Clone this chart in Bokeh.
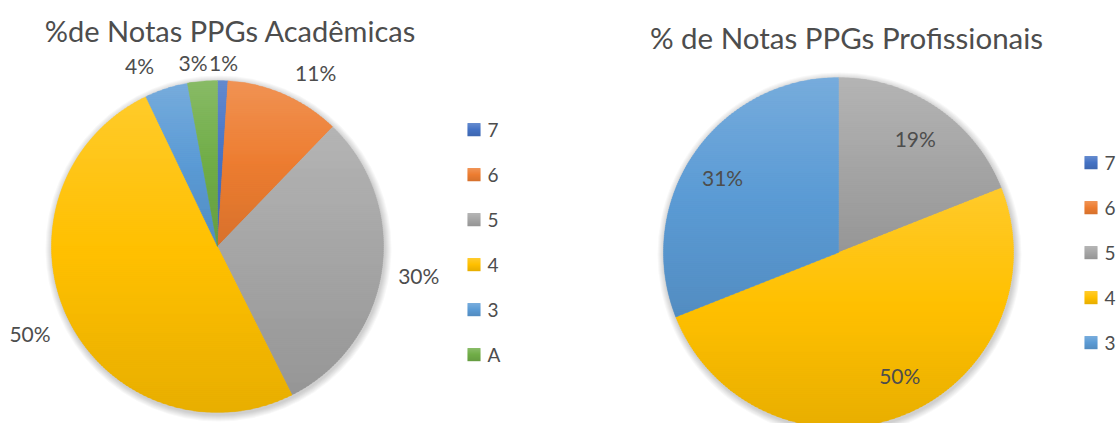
import math
from bokeh.plotting import figure
from bokeh.models import Range1d
from bokeh.embed import file_html
from bokeh.resources import INLINE
from bokeh.core.properties import value

# ---------------- data ----------------
grades_acad = ["7", "6", "5", "4", "3", "A"]
pct_acad = [1.0, 11.2, 30.4, 50.3, 4.2, 2.9]
grades_prof = ["7", "6", "5", "4", "3"]
pct_prof = [0.0, 0.0, 19.0, 50.0, 31.0]
title_acad = "%de Notas PPGs Acadêmicas"
title_prof = "% de Notas PPGs Profissionais"

grade_colors = {"7": "#4472C4", "6": "#ED7D31", "5": "#A5A5A5",
                "4": "#FFC000", "3": "#5B9BD5", "A": "#70AD47"}

# ---------------- layout (screen px) ----------------
W, H = 1117, 423
TOT_H = 423
FONT = value("Lato")
TXT = "#4d4d4d"


def Y(sy):
    return TOT_H - sy


p = figure(width=W, height=H, x_range=Range1d(0, W), y_range=Range1d(0, H),
           output_backend="svg", toolbar_location=None, min_border=0)
p.axis.visible = False
p.grid.visible = False
p.outline_line_color = None
p.background_fill_color = "white"
p.border_fill_color = "white"


def hex2rgb(h):
    h = h.lstrip("#")
    return [int(h[i:i + 2], 16) for i in (0, 2, 4)]


def rgb2hex(c):
    return "#%02x%02x%02x" % tuple(max(0, min(255, int(round(v)))) for v in c)


def mix(a, b, t):
    return [a[i] + (b[i] - a[i]) * t for i in range(3)]


def grad_color(hexc, t):
    base = hex2rgb(hexc)
    light = mix(base, [255, 255, 255], 0.17)
    dark = mix(base, [0, 0, 0], 0.09)
    if t < 0.5:
        return rgb2hex(mix(light, base, t / 0.5))
    return rgb2hex(mix(base, dark, (t - 0.5) / 0.5))


def clip_half(poly, y0, keep_above):
    out = []
    n = len(poly)
    if n == 0:
        return out

    def inside(pt):
        return pt[1] >= y0 if keep_above else pt[1] <= y0

    for i in range(n):
        cur = poly[i]
        prev = poly[i - 1]
        ci, pi = inside(cur), inside(prev)
        if ci:
            if not pi:
                t = (y0 - prev[1]) / (cur[1] - prev[1])
                out.append((prev[0] + t * (cur[0] - prev[0]), y0))
            out.append(cur)
        elif pi:
            t = (y0 - prev[1]) / (cur[1] - prev[1])
            out.append((prev[0] + t * (cur[0] - prev[0]), y0))
    return out


def wedge_poly(cx, cy, r, a0, a1):
    pts = [(cx, cy)]
    n = max(2, int(abs(a1 - a0) / 0.8) + 1)
    for k in range(n + 1):
        a = math.radians(a0 + (a1 - a0) * k / n)
        pts.append((cx + r * math.sin(a), cy - r * math.cos(a)))
    return pts


def draw_pie(cx, cy, r, grades, pcts, inside_labels, nudges, label_fs):
    for k in range(7, 0, -1):
        p.ellipse(x=[cx + 1], y=[Y(cy + 2)], width=2 * (r + k), height=2 * (r + k),
                  fill_color="black", fill_alpha=0.028, line_color=None)
    total = sum(pcts)
    xs, ys, cols = [], [], []
    lx, ly, lt = [], [], []
    acc = 0.0
    for g, v, nd in zip(grades, pcts, nudges):
        if v <= 0:
            continue
        a0 = 360.0 * acc / total
        a1 = 360.0 * (acc + v) / total
        acc += v
        poly = wedge_poly(cx, cy, r, a0, a1)
        ymin = min(q[1] for q in poly)
        ymax = max(q[1] for q in poly)
        step = 2.0
        yb = ymin
        while yb < ymax:
            band = clip_half(poly, yb, True)
            band = clip_half(band, min(yb + step + 0.8, ymax), False)
            if len(band) >= 3:
                t = ((yb + step / 2) - ymin) / max(1e-6, (ymax - ymin))
                xs.append([q[0] for q in band])
                ys.append([Y(q[1]) for q in band])
                cols.append(grad_color(grade_colors[g], min(1.0, max(0.0, t))))
            yb += step
        am = math.radians((a0 + a1) / 2)
        s, c = math.sin(am), math.cos(am)
        lab = "%d%%" % round(v)
        if inside_labels:
            f = 0.78
            px_, py_ = cx + f * r * s, cy - f * r * c
        else:
            R0 = r + 14
            w = 11 * len(lab)
            px_ = cx + R0 * s + s * w / 2
            py_ = cy - R0 * c - c * 8
        lx.append(px_ + nd[0])
        ly.append(Y(py_ + nd[1]))
        lt.append(lab)
    p.patches(xs=xs, ys=ys, fill_color=cols, line_color=cols, line_width=0.3)
    p.text(x=lx, y=ly, text=lt, text_align="center", text_baseline="middle",
           text_font=FONT, text_font_size=label_fs, text_color=TXT)


def draw_legend(x0, y0, grades, gap):
    for i, g in enumerate(grades):
        yc = y0 + i * gap
        tops, bots = [], []
        cs = []
        for k in range(13):
            tops.append(Y(yc - 6.5 + k))
            bots.append(Y(yc - 6.5 + k + 1.2))
            cs.append(grad_color(grade_colors[g], k / 12))
        p.quad(left=[x0] * 13, right=[x0 + 13] * 13, top=tops, bottom=bots,
               fill_color=cs, line_color=None)
    p.text(x=[x0 + 20] * len(grades), y=[Y(y0 + i * gap) for i in range(len(grades))],
           text=grades, text_align="left", text_baseline="middle",
           text_font=FONT, text_font_size="19px", text_color=TXT)


# left pie
nudges_acad = [(0, 4), (19, -2), (7, 1), (-11, 4), (-19, -2), (-7, 3)]
draw_pie(217, 246, 166, grades_acad, pct_acad, False, nudges_acad, "21px")
draw_legend(467, 129, grades_acad, 45)
p.text(x=[230], y=[Y(30)], text=[title_acad], text_align="center", text_baseline="middle",
       text_font=FONT, text_font_size="29px", text_color=TXT)

# right pie
nudges_prof = [(0, 0), (0, 0), (0, -1), (11, -4), (-3, 2)]
draw_pie(838, 252, 175, grades_prof, pct_prof, True, nudges_prof, "21px")
draw_legend(1084, 162, grades_prof, 45)
p.text(x=[846], y=[Y(37)], text=[title_prof], text_align="center", text_baseline="middle",
       text_font=FONT, text_font_size="29.5px", text_color=TXT)

open("out.html", "w").write(file_html(p, INLINE))
